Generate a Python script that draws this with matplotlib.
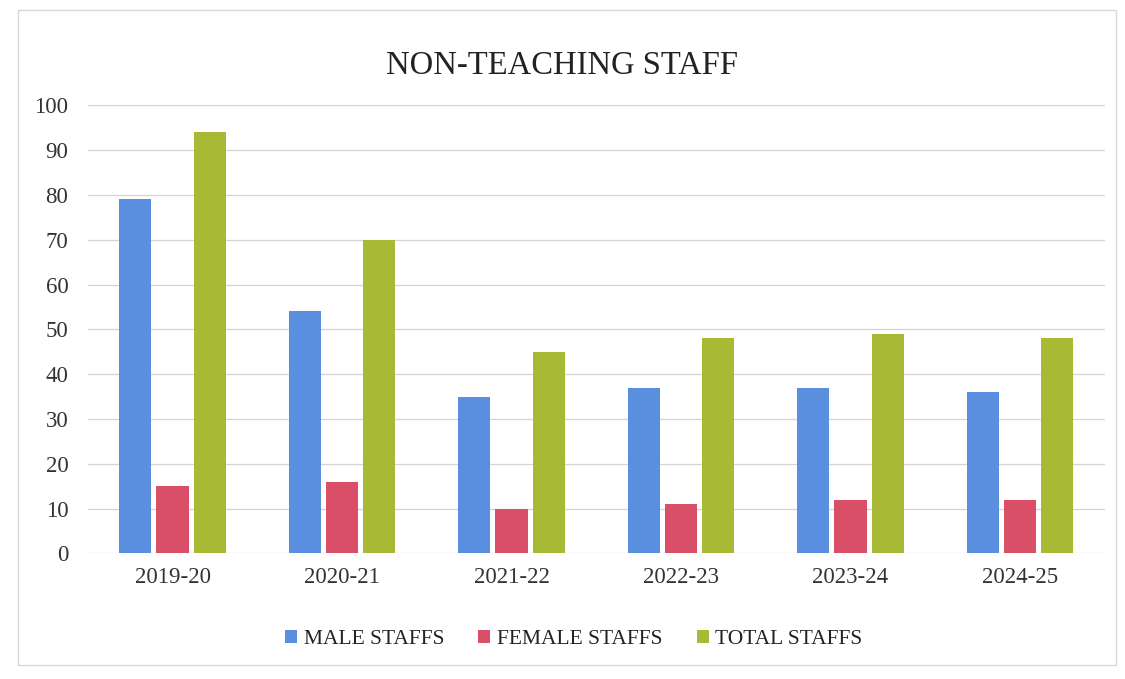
import matplotlib
matplotlib.use("Agg")
import matplotlib.pyplot as plt
import numpy as np
from matplotlib.patches import Rectangle

# data
years = ["2019-20", "2020-21", "2021-22", "2022-23", "2023-24", "2024-25"]
male = [79, 54, 35, 37, 37, 36]
female = [15, 16, 10, 11, 12, 12]
total = [94, 70, 45, 48, 49, 48]

series_names = ["MALE STAFFS", "FEMALE STAFFS", "TOTAL STAFFS"]
colors = ["#5a8fe0", "#d94f68", "#a8b936"]

plt.rcParams['font.family'] = ['Liberation Serif', 'DejaVu Serif']

fig = plt.figure(figsize=(11.25, 6.79), dpi=100)
ax = fig.add_axes([0.078, 0.185, 0.904, 0.66])

# faint outline of the chart box
fig.patches.append(Rectangle((0.016, 0.02), 0.976, 0.965, transform=fig.transFigure,
                             fill=False, edgecolor="#d8d8d8", linewidth=1))

x = np.arange(len(years))
step = 0.22
width = 0.19
for i, (vals, name, c) in enumerate(zip([male, female, total], series_names, colors)):
    ax.bar(x + (i - 1) * step, vals, width, color=c, label=name, zorder=3)

ax.set_ylim(0, 100)
ax.set_xlim(-0.5, len(years) - 0.5)
ax.set_yticks(range(0, 101, 10))
ax.set_xticks(x)
ax.set_xticklabels(years)
ax.grid(axis="y", color="#d4d4d4", linewidth=0.9, zorder=0)
for s in ax.spines.values():
    s.set_visible(False)
ax.tick_params(axis="both", length=0, labelsize=16.5, colors="#333333")
ax.tick_params(axis="y", pad=14)
ax.tick_params(axis="x", pad=10)

fig.suptitle("NON-TEACHING STAFF", y=0.925, fontsize=23.5, color="#222222")

fig.legend(loc="lower center", bbox_to_anchor=(0.51, 0.015), ncol=3, frameon=False,
           fontsize=15.5, handlelength=0.55, handleheight=0.55, handletextpad=0.3,
           columnspacing=1.6, labelcolor="#222222")

fig.savefig("out.png", dpi=100, facecolor="white")
